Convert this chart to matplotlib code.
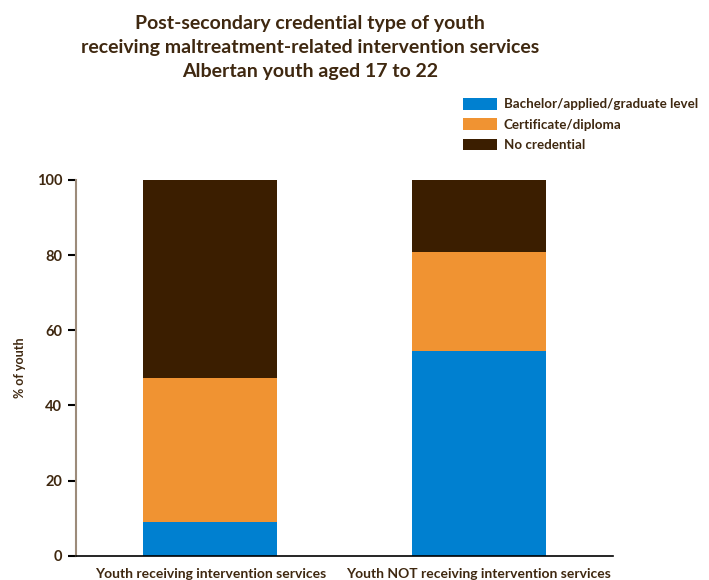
import matplotlib.pyplot as plt
import numpy as np

plt.rcParams['font.family'] = ['Lato', 'DejaVu Sans']

groups = ['Youth receiving intervention services', 'Youth NOT receiving intervention services']
bachelor = [9.0, 54.6]
certificate = [38.2, 26.2]
no_credential = [52.8, 19.2]
series_names = ['Bachelor/applied/graduate level', 'Certificate/diploma', 'No credential']
colors = ['#0080D0', '#F09332', '#3B1E00']
text_color = '#3F2810'

fig = plt.figure(figsize=(7.09, 5.8), dpi=100)
ax = fig.add_axes([0.1072, 0.0419, 0.7574, 0.6478])

x = np.arange(len(groups))
bottom = np.zeros(len(groups))
for vals, name, c in zip([bachelor, certificate, no_credential], series_names, colors):
    ax.bar(x, vals, 0.5, bottom=bottom, color=c, label=name, edgecolor='none')
    bottom += np.array(vals)

ax.set_xlim(-0.5, 1.5)
ax.set_ylim(0, 100)
ax.set_yticks([0, 20, 40, 60, 80, 100])
ax.set_xticks(x)
ax.set_xticklabels(groups, fontsize=10, fontweight='bold', color=text_color)
ax.tick_params(axis='x', length=0, pad=9)
ax.tick_params(axis='y', length=6, width=1.5, color='black', labelsize=10.5,
               labelcolor=text_color, pad=4)
for lab in ax.get_yticklabels():
    lab.set_fontweight('bold')

ax.spines['top'].set_visible(False)
ax.spines['right'].set_visible(False)
ax.spines['left'].set_color('#9C8B7A')
ax.spines['left'].set_linewidth(1.5)
ax.spines['bottom'].set_color('black')
ax.spines['bottom'].set_linewidth(1.2)

ax.set_ylabel('% of youth', fontsize=9, fontweight='bold', color=text_color)
ax.yaxis.set_label_coords(-0.094, 0.5)

fig.text(0.437, 0.974, 'Post-secondary credential type of youth\n'
         'receiving maltreatment-related intervention services\n'
         'Albertan youth aged 17 to 22',
         ha='center', va='top', fontsize=14, fontweight='bold', color=text_color,
         linespacing=1.5)

leg = ax.legend(loc='upper left', bbox_to_anchor=(0.645, 0.84), bbox_transform=fig.transFigure,
                frameon=False, fontsize=9.6, handlelength=2.6, handleheight=0.95,
                labelspacing=0.6, handletextpad=0.5, borderaxespad=0)
for t in leg.get_texts():
    t.set_color(text_color)
    t.set_fontweight('bold')

fig.savefig('out.png', dpi=100)
